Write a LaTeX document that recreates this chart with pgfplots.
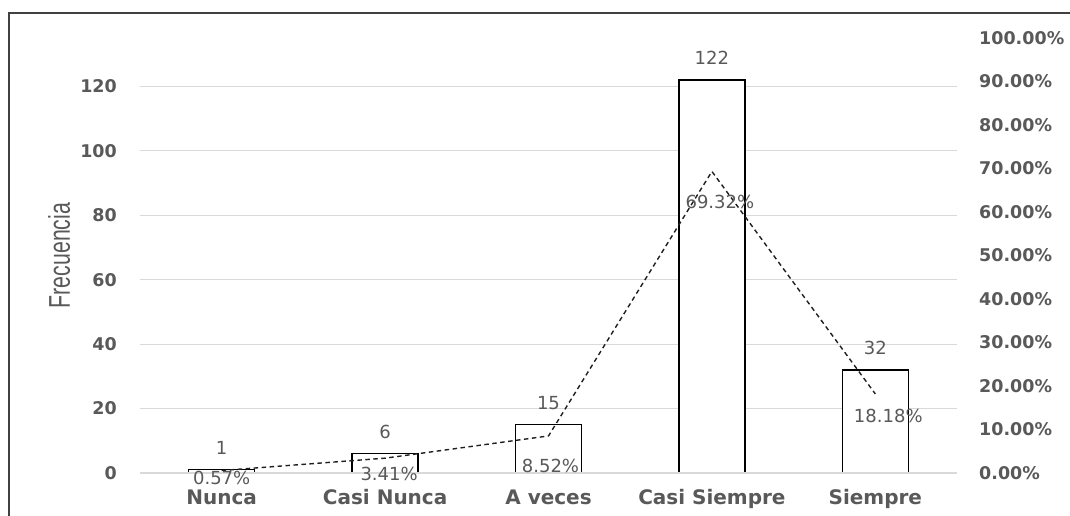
\documentclass[border=0pt]{standalone}
\usepackage{pgfplots}
\pgfplotsset{compat=1.18}
\usepackage{pgfplotstable}
\usepackage{graphicx}
\usepackage{fontspec}
\setmainfont{DejaVu Sans}
\newfontfamily\lib{Liberation Sans}
\definecolor{txt}{HTML}{595959}
\definecolor{grd}{HTML}{D9D9D9}
\definecolor{frm}{HTML}{404040}

\pgfplotstableread{
x f
0 1
1 6
2 15
3 122
4 32
}\freq
\pgfplotstableread{
x p ldx ldy
0 0.57 0 7.5
1 3.41 4 16
2 8.52 2 30
3 69.32 8 30
4 18.18 13 22
}\pct

\begin{document}
\begin{tikzpicture}
\begin{axis}[
  scale only axis, width=817bp, height=435bp,
  xmin=-0.5, xmax=4.5, ymin=0, ymax=135,
  xtick={0,1,2,3,4},
  xticklabels={Nunca, Casi Nunca, A veces, Casi Siempre, Siempre},
  ytick={0,20,...,120},
  ymajorgrids, grid style={grd, line width=1bp},
  axis line style={draw=none}, major tick length=0pt,
  /pgf/number format/assume math mode=true,
  yticklabel style={font=\fontsize{17.5bp}{20bp}\selectfont\bfseries, text=txt, anchor=east, inner sep=0pt, xshift=-23bp},
  xticklabel style={font=\fontsize{20bp}{24bp}\selectfont\bfseries, text=txt, anchor=base, inner sep=0pt, yshift=-31bp},
  ylabel={\scalebox{0.71}[1]{\lib\fontsize{30bp}{34bp}\selectfont Frecuencia}},
  every axis y label/.style={at={(axis description cs:-0.0991,0.5)}, rotate=90, anchor=center, text=txt},
]
\addplot[ybar, bar width=66bp, fill=white, draw=black, line width=1.4bp,
  nodes near coords,
  every node near coord/.append style={font=\fontsize{18bp}{20bp}\selectfont, text=txt, anchor=center, yshift=22bp, line width=0pt}]
  table[x=x, y=f]{\freq};
\addplot[grd, line width=1.6bp, forget plot] coordinates {(-0.5,0) (4.5,0)};
\end{axis}
\begin{axis}[
  scale only axis, width=817bp, height=435bp,
  xmin=-0.5, xmax=4.5, ymin=0, ymax=100,
  axis x line=none, axis y line*=right,
  axis line style={draw=none}, major tick length=0pt,
  ytick={0,10,...,100},
  /pgf/number format/assume math mode=true,
  yticklabel={\pgfmathprintnumber[fixed,fixed zerofill,precision=2]{\tick}\%},
  yticklabel style={font=\fontsize{17.5bp}{20bp}\selectfont\bfseries, text=txt, anchor=west, inner sep=0pt, xshift=22bp},
]
\addplot[black!88, line width=1.4bp, dash pattern=on 4.5bp off 3.5bp,
  point meta=y,
  visualization depends on={\thisrow{ldx} \as \ldx},
  visualization depends on={\thisrow{ldy} \as \ldy},
  nodes near coords={\pgfmathprintnumber[fixed,fixed zerofill,precision=2]{\pgfplotspointmeta}\%},
  every node near coord/.append style={font=\fontsize{18bp}{20bp}\selectfont, text=txt, anchor=center, xshift=\ldx bp, yshift=-\ldy bp, solid}]
  table[x=x, y=p]{\pct};
\end{axis}
\draw[frm, line width=1.5bp] (-131bp,-80bp) -- (-131bp,460bp) -- (960bp,460bp);
\pgfresetboundingbox
\useasboundingbox (-140bp,-43bp) rectangle (930bp,473bp);
\end{tikzpicture}
\end{document}
